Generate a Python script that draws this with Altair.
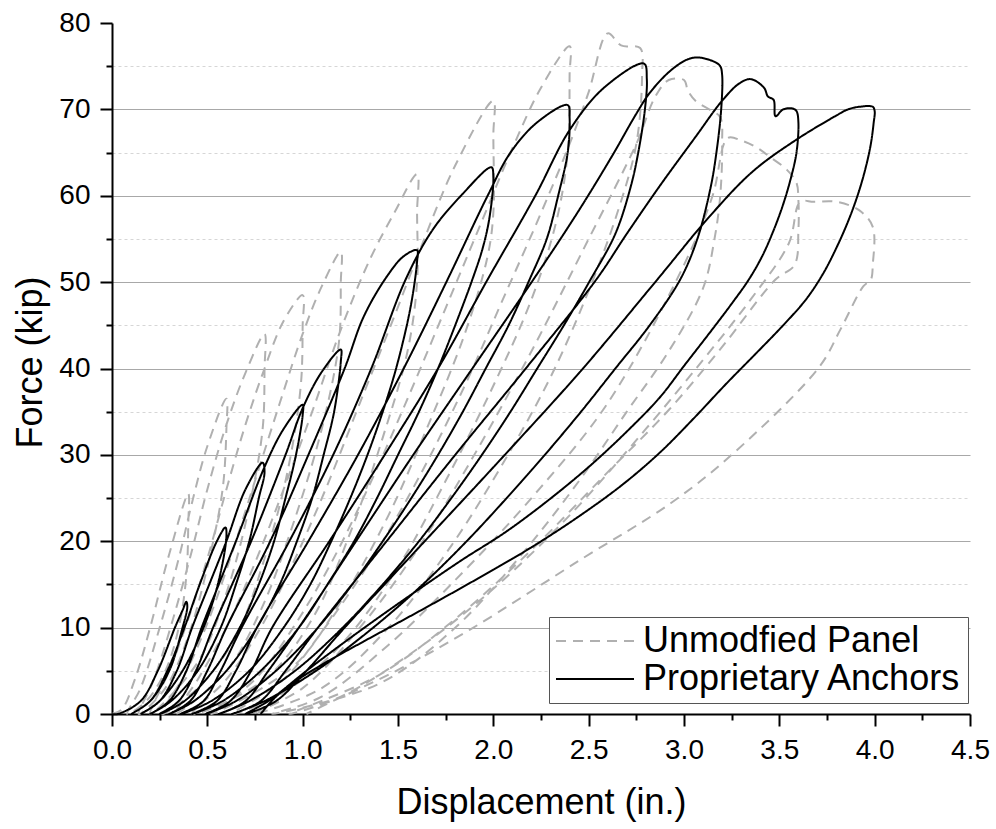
import altair as alt
import pandas as pd

FONT = "Liberation Sans"

# ---- Proprietary Anchors (solid black): one list per cycle (reloading branch, then unloading branch)
pa_cycles_x = [
    [0.00, 0.03, 0.15, 0.24, 0.33, 0.37, 0.39, 0.395, 0.37, 0.30, 0.20, 0.10],
    [0.20, 0.29, 0.38, 0.46, 0.55, 0.595, 0.60, 0.555, 0.48, 0.37, 0.25, 0.15],
    [0.25, 0.34, 0.42, 0.51, 0.60, 0.70, 0.79, 0.80, 0.77, 0.72, 0.65, 0.57, 0.45, 0.31, 0.20],
    [0.30, 0.39, 0.47, 0.56, 0.65, 0.80, 0.90, 1.00,
     1.00, 0.965, 0.91, 0.85, 0.77, 0.67, 0.53, 0.38, 0.25],
    [0.35, 0.44, 0.53, 0.63, 0.73, 0.91, 1.00, 1.10, 1.20,
     1.20, 1.165, 1.11, 1.05, 0.97, 0.88, 0.76, 0.60, 0.43, 0.30],
    [0.41, 0.50, 0.60, 0.83, 1.03, 1.22, 1.32, 1.44, 1.53, 1.60,
     1.60, 1.565, 1.49, 1.42, 1.34, 1.25, 1.15, 1.04, 0.90, 0.72, 0.52, 0.36],
    [0.48, 0.57, 0.68, 0.93, 1.16, 1.36, 1.54, 1.68, 1.83, 1.99,
     2.00, 1.98, 1.945, 1.89, 1.80, 1.71, 1.61, 1.50, 1.39, 1.27, 1.13, 0.98, 0.78, 0.58, 0.42],
    [0.55, 0.65, 0.76, 1.03, 1.29, 1.53, 1.76, 1.97, 2.09, 2.23, 2.39,
     2.40, 2.39, 2.34, 2.28, 2.19, 2.08, 1.96, 1.84, 1.71, 1.57, 1.42, 1.26, 1.08, 0.86, 0.65, 0.49],
    [0.62, 0.73, 0.84, 1.14, 1.43, 1.71, 1.97, 2.22, 2.40, 2.58, 2.79,
     2.805, 2.795, 2.76, 2.72, 2.64, 2.51, 2.37, 2.23, 2.09, 1.94, 1.78, 1.61, 1.42, 1.21, 0.96, 0.72, 0.56],
    [0.70, 0.82, 0.98, 1.28, 1.58, 1.89, 2.21, 2.44, 2.62, 2.75, 2.82, 2.93, 3.02, 3.08, 3.16, 3.19,
     3.20, 3.195, 3.17, 3.14, 3.07, 2.98, 2.82, 2.64, 2.46, 2.27, 2.07, 1.86, 1.63, 1.37, 1.07, 0.80, 0.63],
    [0.78, 0.91, 1.08, 1.44, 1.80, 2.17, 2.54, 2.70, 2.875, 3.06, 3.20, 3.29, 3.35, 3.42, 3.44, 3.47, 3.48, 3.52, 3.57, 3.59,
     3.60, 3.59, 3.56, 3.52, 3.47, 3.41, 3.34, 3.25, 3.13, 3.00, 2.875, 2.70, 2.50, 2.28, 2.06, 1.84, 1.62, 1.40, 1.20, 1.02, 0.82, 0.70],
    [0.86, 1.02, 1.22, 1.64, 2.06, 2.47, 2.86, 3.13, 3.36, 3.59, 3.80, 3.86, 3.92, 3.99,
     4.00, 3.995, 3.98, 3.95, 3.91, 3.86, 3.80, 3.73, 3.64, 3.52, 3.38, 3.22, 3.05, 2.875, 2.68, 2.45, 2.20, 1.92, 1.62, 1.32, 1.10, 0.95, 0.85, 0.78],
]
pa_cycles_y = [
    [0.0, 0.0, 1.5, 5.0, 10.0, 12.0, 13.0, 12.4, 10.0, 5.0, 1.5, 0.0],
    [1.5, 5.0, 10.0, 15.0, 20.0, 21.6, 20.5, 15.0, 10.0, 5.0, 1.5, 0.0],
    [1.5, 5.0, 10.0, 15.0, 20.0, 26.0, 29.1, 28.0, 25.0, 20.0, 15.0, 10.0, 5.0, 1.5, 0.0],
    [1.5, 5.0, 10.0, 15.0, 20.0, 28.6, 33.0, 35.8,
     34.6, 30.0, 25.0, 20.0, 15.0, 10.0, 5.0, 1.5, 0.0],
    [1.5, 5.0, 10.0, 15.0, 20.0, 30.0, 35.4, 39.6, 42.2,
     40.8, 35.0, 30.0, 25.0, 20.0, 15.0, 10.0, 5.0, 1.5, 0.0],
    [1.5, 5.0, 10.0, 20.0, 30.0, 40.0, 46.0, 50.6, 53.0, 53.7,
     52.4, 47.0, 40.0, 35.0, 30.0, 25.0, 20.0, 15.0, 10.0, 5.0, 1.5, 0.0],
    [1.5, 5.0, 10.0, 20.0, 30.0, 40.0, 50.3, 56.0, 60.0, 63.3,
     62.2, 57.5, 54.0, 50.3, 45.0, 40.0, 35.0, 30.0, 25.0, 20.0, 15.0, 10.0, 5.0, 1.5, 0.0],
    [1.5, 5.0, 10.0, 20.0, 30.0, 40.0, 50.3, 60.0, 65.0, 68.5, 70.5,
     69.0, 65.0, 60.0, 55.0, 50.3, 45.0, 40.0, 35.0, 30.0, 25.0, 20.0, 15.0, 10.0, 5.0, 1.5, 0.0],
    [1.5, 5.0, 10.0, 20.0, 30.0, 40.0, 50.3, 60.0, 67.6, 72.5, 75.3,
     73.5, 70.0, 65.0, 61.0, 55.6, 50.3, 45.0, 40.0, 35.0, 30.0, 25.0, 20.0, 15.0, 10.0, 5.0, 1.5, 0.0],
    [1.5, 5.0, 10.0, 20.0, 30.0, 40.0, 50.3, 58.0, 64.5, 69.5, 71.9, 74.5, 75.8, 76.0, 75.5, 75.0,
     74.0, 70.0, 65.0, 61.0, 55.0, 50.3, 45.0, 40.0, 35.0, 30.0, 25.0, 20.0, 15.0, 10.0, 5.0, 1.5, 0.0],
    [1.5, 5.0, 10.0, 20.0, 30.0, 40.0, 50.3, 55.6, 61.2, 66.8, 71.0, 73.0, 73.5, 72.5, 71.5, 71.1, 69.2, 70.0, 70.1, 69.8,
     68.5, 65.0, 62.0, 59.0, 56.0, 53.0, 50.3, 47.5, 44.0, 40.3, 36.7, 32.7, 28.6, 24.6, 21.0, 17.9, 14.6, 11.2, 8.0, 5.0, 1.5, 0.0],
    [1.5, 5.0, 10.0, 20.0, 30.0, 40.0, 50.3, 57.5, 62.8, 66.5, 69.3, 70.0, 70.3, 70.3,
     69.8, 68.5, 66.0, 63.0, 60.0, 57.0, 54.0, 51.0, 48.0, 45.0, 41.8, 38.2, 34.2, 30.3, 26.6, 22.9, 19.3, 15.7, 12.0, 8.4, 5.7, 3.6, 1.8, 0.0],
]

# ---- Unmodified panel (grey dashed): one list per cycle
up_cycles_x = [
    [0.00, 0.05, 0.12, 0.20, 0.30, 0.40, 0.40, 0.39, 0.35, 0.28, 0.18, 0.08],
    [0.15, 0.25, 0.35, 0.42, 0.50, 0.60, 0.60, 0.58, 0.50, 0.40, 0.28, 0.14],
    [0.22, 0.32, 0.42, 0.50, 0.60, 0.70, 0.80, 0.80, 0.79, 0.72, 0.60, 0.45, 0.20],
    [0.30, 0.40, 0.50, 0.60, 0.70, 0.80, 0.90, 1.00, 1.00, 0.99, 0.92, 0.80, 0.65, 0.45, 0.26],
    [0.38, 0.50, 0.62, 0.75, 0.88, 1.00, 1.10, 1.20, 1.20, 1.19, 1.10, 0.95, 0.78, 0.60, 0.33],
    [0.45, 0.60, 0.75, 0.90, 1.05, 1.20, 1.35, 1.48, 1.60, 1.60, 1.60, 1.55, 1.42, 1.25, 1.05, 0.80, 0.42],
    [0.60, 0.78, 0.95, 1.12, 1.30, 1.48, 1.62, 1.80, 2.00, 2.00, 2.00, 1.97, 1.85, 1.65, 1.45, 1.20, 0.95, 0.52],
    [0.75, 0.95, 1.15, 1.35, 1.55, 1.75, 1.92, 2.10, 2.25, 2.40,
     2.40, 2.39, 2.33, 2.20, 2.00, 1.75, 1.50, 1.20, 0.90, 0.63],
    [0.90, 1.10, 1.35, 1.60, 1.85, 2.05, 2.25, 2.40, 2.50, 2.60, 2.67, 2.77,
     2.78, 2.75, 2.65, 2.50, 2.30, 2.05, 1.78, 1.45, 1.10, 0.74],
    [1.00, 1.30, 1.60, 1.90, 2.20, 2.50, 2.75, 2.85, 2.92, 3.00, 3.02, 3.06, 3.14, 3.19,
     3.20, 3.19, 3.16, 3.10, 2.92, 2.70, 2.45, 2.15, 1.80, 1.40, 0.84],
    [1.10, 1.45, 1.80, 2.20, 2.60, 3.00, 3.15, 3.23, 3.30, 3.38, 3.45, 3.54, 3.59, 3.60,
     3.60, 3.58, 3.48, 3.20, 2.92, 2.60, 2.20, 1.80, 1.40, 0.93],
    [1.20, 1.60, 2.00, 2.40, 2.80, 3.10, 3.35, 3.55, 3.61, 3.68, 3.80, 3.92, 3.99,
     3.99, 3.98, 3.94, 3.82, 3.71, 3.26, 2.93, 2.46, 1.88, 1.50, 1.14, 1.02],
]
up_cycles_y = [
    [0.0, 0.5, 4.0, 10.0, 18.5, 25.5, 22.0, 16.0, 10.0, 5.0, 1.5, 0.0],
    [3.0, 10.0, 18.0, 24.5, 31.0, 36.5, 33.0, 26.0, 17.0, 9.0, 3.0, 0.0],
    [4.0, 11.0, 19.0, 26.0, 33.5, 39.5, 44.0, 40.0, 33.0, 24.0, 14.0, 6.0, 0.0],
    [5.0, 11.0, 18.0, 26.0, 33.5, 40.0, 45.5, 48.5, 45.0, 38.0, 28.0, 18.0, 9.0, 3.0, 0.0],
    [4.5, 10.5, 18.0, 27.0, 36.0, 44.0, 49.5, 53.5, 50.0, 43.0, 33.0, 22.0, 12.0, 5.0, 0.0],
    [4.0, 10.0, 17.5, 26.0, 35.0, 44.5, 52.5, 58.0, 62.5, 58.0, 50.0, 42.0, 32.0, 21.0, 11.0, 4.0, 0.0],
    [4.0, 10.0, 17.5, 26.0, 36.0, 46.0, 54.0, 63.5, 71.0, 67.0, 58.0, 53.0, 44.0, 33.0, 23.0, 13.0, 5.5, 0.0],
    [4.0, 10.0, 17.5, 26.5, 36.5, 47.0, 56.0, 65.5, 72.5, 77.3,
     74.0, 65.0, 57.0, 48.0, 38.0, 27.0, 17.0, 8.0, 2.5, 0.0],
    [4.0, 9.5, 17.5, 27.0, 38.0, 48.0, 58.0, 66.0, 72.0, 78.8, 77.4, 77.1,
     74.0, 66.0, 58.0, 49.0, 39.0, 29.0, 19.5, 10.0, 3.0, 0.0],
    [3.0, 10.0, 19.0, 30.0, 42.0, 55.0, 66.0, 71.5, 73.4, 73.4, 72.2, 71.0, 69.9, 69.1,
     66.0, 60.0, 55.0, 49.3, 42.0, 35.0, 27.0, 18.5, 10.0, 3.5, 0.0],
    [2.0, 8.0, 15.5, 25.0, 36.0, 52.0, 60.0, 66.7, 66.4, 65.6, 64.5, 63.0, 61.5, 59.5,
     56.0, 52.0, 50.3, 42.5, 35.2, 28.0, 19.0, 11.0, 4.5, 0.0],
    [2.0, 7.5, 14.5, 23.0, 33.0, 41.0, 48.0, 54.5, 59.3, 59.3, 59.3, 58.3, 56.4,
     52.0, 50.3, 49.5, 44.5, 40.2, 30.2, 24.4, 17.9, 9.8, 5.1, 1.3, 0.0],
]

series_names = ["Unmodfied Panel", "Proprietary Anchors"]
series_colors = ["#b0b0b0", "#000000"]
series_dash = [[10, 7], [1, 0]]

y_ticks = [0, 5, 10, 15, 20, 25, 30, 35, 40, 45, 50, 55, 60, 65, 70, 75, 80]
x_ticks = [0.0, 0.25, 0.5, 0.75, 1.0, 1.25, 1.5, 1.75, 2.0, 2.25, 2.5, 2.75,
           3.0, 3.25, 3.5, 3.75, 4.0, 4.25, 4.5]


def path_frame(cx, cy, name):
    xs, ys = [], []
    for a, b in zip(cx, cy):
        xs.extend(a)
        ys.extend(b)
    return pd.DataFrame({"x": xs, "y": ys, "s": name, "i": list(range(len(xs)))})


df_up = path_frame(up_cycles_x, up_cycles_y, series_names[0])
df_pa = path_frame(pa_cycles_x, pa_cycles_y, series_names[1])

major_y = "datum.value % 10 == 0"
major_x = "round(datum.value * 4) % 2 == 0"

x_enc = alt.X("x:Q", scale=alt.Scale(domain=[0, 4.5], nice=False, zero=False),
              axis=alt.Axis(values=x_ticks, title="Displacement (in.)", grid=False,
                            labelExpr=f"{major_x} ? format(datum.value, '.1f') : ''",
                            tickSize={"condition": {"test": major_x, "value": 12}, "value": 6},
                            labelPadding=10, titlePadding=21, labelOverlap=False, labelFlush=False))
y_enc = alt.Y("y:Q", scale=alt.Scale(domain=[0, 80], nice=False, zero=False),
              axis=alt.Axis(values=y_ticks, title="Force (kip)", grid=True, titleY=339,
                            labelExpr=f"{major_y} ? datum.label : ''",
                            tickSize={"condition": {"test": major_y, "value": 12}, "value": 6},
                            gridColor={"condition": {"test": major_y, "value": "#a8a8a8"}, "value": "#d6d6d6"},
                            gridDash={"condition": {"test": major_y, "value": []}, "value": [3, 3]},
                            gridOpacity={"condition": {"test": "datum.value == 0 || datum.value == 80", "value": 0}, "value": 1},
                            labelPadding=10, titlePadding=9, labelOverlap=False, labelFlush=False))

legend = alt.Legend(title=None, orient="none", legendX=437, legendY=594,
                    symbolType="stroke", symbolSize=6084, symbolStrokeWidth=2,
                    labelFont=FONT, labelFontSize=36, labelColor="black", labelOffset=8,
                    labelLimit=0, clipHeight=36, rowPadding=2,
                    strokeColor="#555555", fillColor="white", padding=6)
color_enc = alt.Color("s:N", scale=alt.Scale(domain=series_names, range=series_colors), legend=legend)
dash_enc = alt.StrokeDash("s:N", scale=alt.Scale(domain=series_names, range=series_dash), legend=legend)

grey = alt.Chart(df_up).mark_line(strokeWidth=2, interpolate="catmull-rom").encode(
    x=x_enc, y=y_enc, color=color_enc, strokeDash=dash_enc, order=alt.Order("i:Q"))
black = alt.Chart(df_pa).mark_line(strokeWidth=2, interpolate="catmull-rom").encode(
    x=x_enc, y=y_enc, color=color_enc, strokeDash=dash_enc, order=alt.Order("i:Q"))

chart = alt.layer(grey, black).properties(
    width=858, height=691,
    autosize=alt.AutoSizeParams(type="none"),
    padding={"left": 112, "top": 23, "right": 26, "bottom": 115},
).configure_view(stroke=None).configure_axis(
    domainColor="black", domainWidth=2, tickColor="black", tickWidth=2,
    labelFont=FONT, labelFontSize=28, labelColor="black",
    titleFont=FONT, titleFontSize=36, titleFontWeight="normal", titleColor="black",
)

chart.save("out.html", embed_options={"renderer": "svg", "actions": False})
